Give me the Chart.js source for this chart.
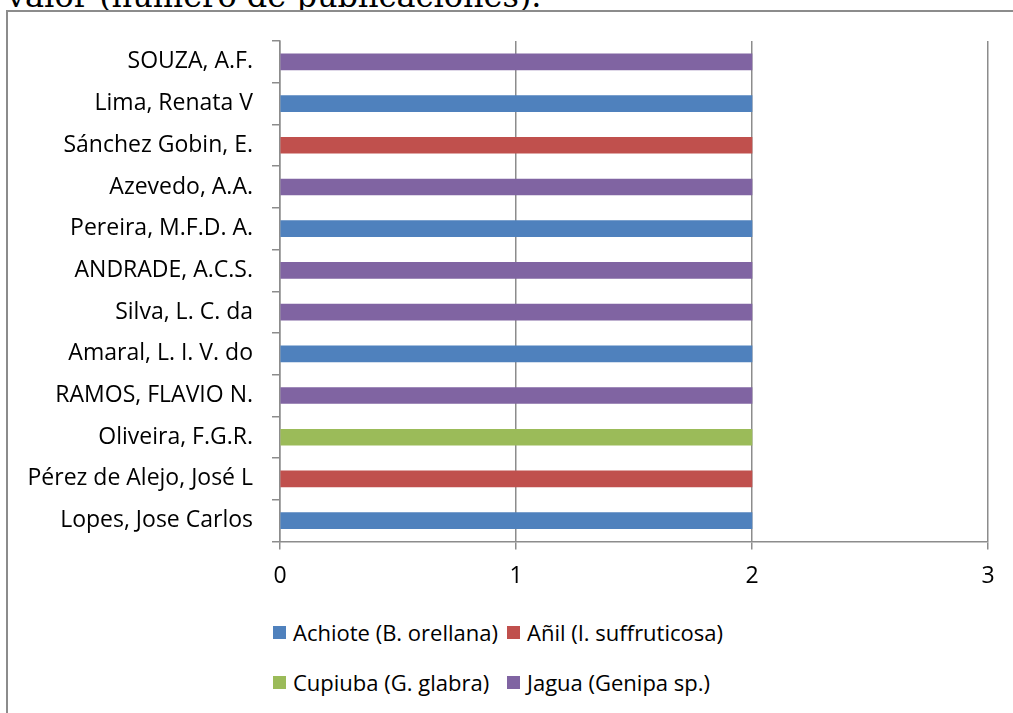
<!DOCTYPE html>
<html>
<head>
<meta charset="utf-8">
<script src="https://cdn.jsdelivr.net/npm/chart.js@4"></script>
<style>
    body { margin: 0; background: #fff; width: 1013px; height: 713px; overflow: hidden; position: relative; }
    #heading { position: absolute; left: 7px; top: -20px; font-family: "DejaVu Serif", serif; font-size: 32px; line-height: 32px; color: #000; white-space: nowrap; }
    #frame { position: absolute; left: 6px; top: 10px; width: 1100px; height: 800px; border-left: 2px solid #8c8c8c; border-top: 2px solid #8c8c8c; background: #fff; }
    #chart { position: absolute; left: 0; top: 0; }
    #legend { position: absolute; left: 273px; top: 607px; display: grid; grid-template-columns: 234px auto; grid-auto-rows: 50px; font-family: "Open Sans", sans-serif; font-size: 22px; color: #000; }
    #legend .item { display: flex; align-items: center; white-space: nowrap; }
    #legend .box { width: 13px; height: 13px; margin-right: 7px; }
</style>
</head>
<body>
<div id="heading">valor (número de publicaciones).</div>
<div id="frame"></div>
<canvas id="chart" width="1013" height="600"></canvas>
<div id="legend"></div>
<script>
const authors = ['SOUZA, A.F.', 'Lima, Renata V', 'Sánchez Gobin, E.', 'Azevedo, A.A.', 'Pereira, M.F.D. A.',
    'ANDRADE, A.C.S.', 'Silva, L. C. da', 'Amaral, L. I. V. do', 'RAMOS, FLAVIO N.', 'Oliveira, F.G.R.',
    'Pérez de Alejo, José L', 'Lopes, Jose Carlos'];
const seriesNames = ['Achiote (B. orellana)', 'Añil (I. suffruticosa)', 'Cupiuba (G. glabra)', 'Jagua (Genipa sp.)'];
const seriesColors = ['#4f81bd', '#c0504d', '#9bbb59', '#8064a2'];
const achiote = [null, 2, null, null, 2, null, null, 2, null, null, null, 2];
const anil    = [null, null, 2, null, null, null, null, null, null, null, 2, null];
const cupiuba = [null, null, null, null, null, null, null, null, null, 2, null, null];
const jagua   = [2, null, null, 2, null, 2, 2, null, 2, null, null, null];
const xTicks = [0, 1, 2, 3];

const seriesValues = [achiote, anil, cupiuba, jagua];
const fontFamily = '"Open Sans", sans-serif';

new Chart(document.getElementById('chart').getContext('2d'), {
    type: 'bar',
    data: {
        labels: authors,
        datasets: seriesNames.map((name, i) => ({
            label: name,
            data: seriesValues[i],
            backgroundColor: seriesColors[i],
            borderWidth: 0,
            barThickness: 16
        }))
    },
    options: {
        indexAxis: 'y',
        responsive: false,
        animation: false,
        layout: { padding: { top: 41, right: 25, left: 0, bottom: 0 } },
        plugins: { legend: { display: false }, tooltip: { enabled: false } },
        scales: {
            x: {
                stacked: true,
                min: xTicks[0],
                max: xTicks[xTicks.length - 1],
                afterBuildTicks: scale => { scale.ticks = xTicks.map(v => ({ value: v })); },
                afterFit: scale => { scale.height = 58.5; },
                grid: { color: '#8c8c8c', lineWidth: 1.5, tickLength: 8 },
                border: { color: '#8c8c8c', width: 1.5 },
                ticks: { color: '#000', font: { family: fontFamily, size: 23 }, padding: 13 }
            },
            y: {
                stacked: true,
                afterFit: scale => { scale.width = 280; },
                grid: { drawOnChartArea: false, color: '#8c8c8c', lineWidth: 1.5, tickLength: 8, offset: true },
                border: { color: '#8c8c8c', width: 1.5 },
                ticks: { color: '#000', font: { family: fontFamily, size: 23 }, padding: 19 }
            }
        }
    }
});

const legend = document.getElementById('legend');
seriesNames.forEach((name, i) => {
    const item = document.createElement('div');
    item.className = 'item';
    item.innerHTML = `<span class="box" style="background:${seriesColors[i]}"></span>${name}`;
    legend.appendChild(item);
});
</script>
</body>
</html>
